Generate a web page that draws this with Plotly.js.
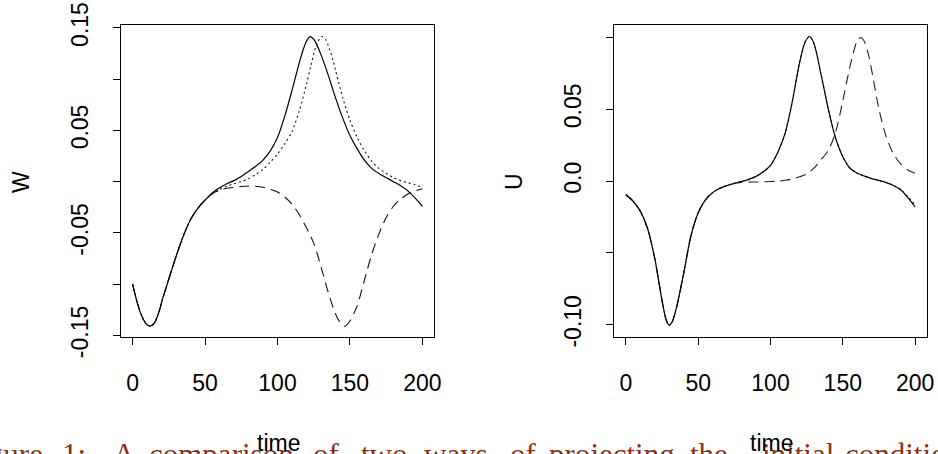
<!DOCTYPE html>
<html>
<head>
<meta charset="utf-8">
<script src="https://cdn.plot.ly/plotly-3.0.1.min.js"></script>
<style>html,body{margin:0;padding:0;background:#fff;}#chart{width:938px;height:454px;}</style>
</head>
<body>
<div id="chart"></div>
<script>
// ---------- Data ----------
// Left panel: W against time
const tWSolid = [0,3,6,9,12,15,18,21,25,30,35,40,45,50,55,60,65,70,75,80,85,90,95,100,105,110,115,118,120,122.5,125,127,130,135,140,145,150,155,160,165,170,175,180,185,190,195,200];
const wSolid  = [-0.100,-0.117,-0.130,-0.138,-0.141,-0.138,-0.128,-0.113,-0.095,-0.073,-0.053,-0.037,-0.026,-0.018,-0.011,-0.006,-0.002,0.001,0.005,0.010,0.015,0.021,0.030,0.043,0.064,0.089,0.116,0.130,0.137,0.1416,0.139,0.134,0.124,0.104,0.082,0.062,0.045,0.032,0.021,0.013,0.008,0.004,0.000,-0.004,-0.009,-0.016,-0.024];

const tWDotted = [0,3,6,9,12,15,18,21,25,30,35,40,45,50,55,60,65,70,75,80,85,90,95,100,105,110,115,120,123,126,128,130.5,133,135,138,140,145,150,155,160,165,170,175,180,185,190,195,200];
const wDotted  = [-0.100,-0.117,-0.130,-0.138,-0.141,-0.138,-0.128,-0.113,-0.095,-0.073,-0.053,-0.037,-0.026,-0.018,-0.012,-0.0075,-0.0045,-0.002,0.000,0.003,0.007,0.012,0.019,0.027,0.037,0.049,0.069,0.095,0.113,0.130,0.137,0.1416,0.139,0.133,0.120,0.109,0.082,0.060,0.043,0.030,0.020,0.013,0.008,0.004,0.001,-0.001,-0.003,-0.006];

const tWDashed = [0,3,6,9,12,15,18,21,25,30,35,40,45,50,55,60,65,70,75,80,85,90,95,100,105,110,115,120,125,130,135,140,143,146.5,150,155,160,165,170,175,180,185,190,195,200];
const wDashed  = [-0.100,-0.117,-0.130,-0.138,-0.141,-0.138,-0.128,-0.113,-0.095,-0.073,-0.053,-0.037,-0.026,-0.018,-0.0115,-0.0085,-0.0065,-0.0055,-0.0047,-0.0042,-0.0045,-0.0055,-0.0075,-0.010,-0.015,-0.022,-0.032,-0.045,-0.060,-0.083,-0.108,-0.129,-0.137,-0.141,-0.136,-0.121,-0.096,-0.071,-0.051,-0.035,-0.024,-0.017,-0.012,-0.009,-0.007];

// Right panel: U against time
const tUSolid = [0,5,10,15,20,25,28,30,32,35,40,45,50,55,60,65,70,75,80,85,90,95,100,105,110,115,120,124,127,130,135,140,145,150,155,160,165,170,175,180,185,190,195,200];
const uSolid  = [-0.0095,-0.014,-0.021,-0.033,-0.054,-0.083,-0.097,-0.1002,-0.098,-0.088,-0.064,-0.038,-0.022,-0.013,-0.008,-0.005,-0.003,-0.0015,-0.0002,0.0012,0.0033,0.0065,0.011,0.020,0.033,0.055,0.082,0.097,0.1007,0.096,0.074,0.050,0.030,0.017,0.009,0.0055,0.0035,0.0018,0.0005,-0.001,-0.003,-0.006,-0.0115,-0.018];
const uDotted = [-0.0095,-0.014,-0.021,-0.033,-0.054,-0.083,-0.097,-0.1002,-0.098,-0.088,-0.064,-0.038,-0.022,-0.013,-0.008,-0.005,-0.003,-0.0015,-0.0002,0.0012,0.0033,0.0065,0.011,0.020,0.033,0.055,0.082,0.097,0.1007,0.096,0.074,0.050,0.030,0.017,0.009,0.0055,0.0035,0.0018,0.0005,-0.001,-0.003,-0.0058,-0.0108,-0.0165];

const tUDashed = [0,5,10,15,20,25,28,30,32,35,40,45,50,55,60,65,70,75,80,85,90,95,100,105,110,115,120,125,130,135,140,145,150,155,158,160,162.5,165,168,170,175,180,185,190,195,200];
const uDashed  = [-0.0095,-0.014,-0.021,-0.033,-0.054,-0.083,-0.097,-0.1002,-0.098,-0.088,-0.064,-0.038,-0.022,-0.013,-0.008,-0.005,-0.003,-0.0015,-0.0009,-0.0007,-0.0006,-0.0005,-0.0003,0.0000,0.0006,0.0015,0.003,0.005,0.009,0.015,0.0215,0.034,0.056,0.080,0.092,0.098,0.100,0.097,0.087,0.077,0.050,0.031,0.019,0.012,0.0078,0.0055];

// Tick labels
const xTicks = [0,50,100,150,200];
const wTickVals = [-0.15,-0.10,-0.05,0.00,0.05,0.10,0.15];
const wTickText = ["-0.15","","-0.05","","0.05","","0.15"];
const uTickVals = [-0.10,-0.05,0.00,0.05,0.10];
const uTickText = ["-0.10","","0.0","0.05",""];

// Caption words (figure caption below the plots)
const captionWords = ["Figure","1:","A","comparison","of","two","ways","of","projecting","the","initial","conditions"];
const captionLeft  = [-40,60,111,147,311,359,422,508,547,688,760,843];

// ---------- Styling ----------
const W = 938, H = 454;
const sans = "Liberation Sans, Arial, Helvetica, sans-serif";
const tickFont = {family: sans, size: 23, color: "#000"};

function line(x, y, dash, xa, ya, width, color) {
  return {x: x, y: y, xaxis: xa, yaxis: ya, type: "scatter", mode: "lines",
    line: {color: color || "#000", width: width || 1.2, dash: dash, shape: "spline", smoothing: 0.8},
    hoverinfo: "skip", showlegend: false};
}

const traces = [
  line(tWDashed, wDashed, "10px,6px", "x", "y", 1.1, "#111"),
  line(tWDotted, wDotted, "2px,3px", "x", "y", 1.1, "#111"),
  line(tWSolid, wSolid, "solid", "x", "y", 1.2),
  line(tUDashed, uDashed, "10px,6px", "x2", "y2", 1.1, "#222"),
  line(tUSolid, uDotted, "2px,3px", "x2", "y2", 1.1, "#222"),
  line(tUSolid, uSolid, "solid", "x2", "y2", 1.2)
];

function xAxis(domain, anchor) {
  return {domain: domain, anchor: anchor, range: [-8, 208], tickvals: xTicks,
    ticks: "outside", ticklen: 7, tickwidth: 1, tickcolor: "#000",
    showline: true, mirror: true, linecolor: "#000", linewidth: 1,
    showgrid: false, zeroline: false, tickfont: tickFont, ticklabelstandoff: 18, fixedrange: true};
}
function yAxis(domain, anchor, range, vals, text) {
  return {domain: domain, anchor: anchor, range: range, tickvals: vals, ticktext: text,
    tickangle: -90, ticks: "outside", ticklen: 7, tickwidth: 1, tickcolor: "#000",
    showline: true, mirror: true, linecolor: "#000", linewidth: 1,
    showgrid: false, zeroline: false, tickfont: tickFont, ticklabelstandoff: 16, fixedrange: true};
}

const yDom = [1 - 337 / H, 1 - 25 / H];
const annotations = [
  {text: "W", x: 21 / W, y: 1 - 182 / H, xref: "paper", yref: "paper", showarrow: false, textangle: -90, font: tickFont, xanchor: "center", yanchor: "middle"},
  {text: "U", x: 514 / W, y: 1 - 182 / H, xref: "paper", yref: "paper", showarrow: false, textangle: -90, font: tickFont, xanchor: "center", yanchor: "middle"},
  {text: "time", x: 278 / W, y: 1 - 443 / H, xref: "paper", yref: "paper", showarrow: false, font: tickFont, xanchor: "center", yanchor: "middle"},
  {text: "time", x: 771 / W, y: 1 - 443 / H, xref: "paper", yref: "paper", showarrow: false, font: tickFont, xanchor: "center", yanchor: "middle"}
];
captionWords.forEach(function (w, i) {
  annotations.unshift({text: w, x: captionLeft[i] / W, y: 1 - 455 / H, xref: "paper", yref: "paper",
    showarrow: false, xanchor: "left", yanchor: "middle",
    font: {family: "Liberation Serif, Times New Roman, serif", size: 31, color: "#8B3214"}});
});

const layout = {
  width: W, height: H,
  margin: {l: 0, r: 0, t: 0, b: 0},
  paper_bgcolor: "#fff", plot_bgcolor: "#fff",
  showlegend: false,
  xaxis: xAxis([121 / W, 434 / W], "y"),
  yaxis: yAxis(yDom, "x", [-0.1516, 0.1529], wTickVals, wTickText),
  xaxis2: xAxis([614.3 / W, 926.7 / W], "y2"),
  yaxis2: yAxis(yDom, "x2", [-0.1085, 0.1087], uTickVals, uTickText),
  annotations: annotations
};

Plotly.newPlot("chart", traces, layout, {displayModeBar: false, staticPlot: true});
</script>
</body>
</html>
